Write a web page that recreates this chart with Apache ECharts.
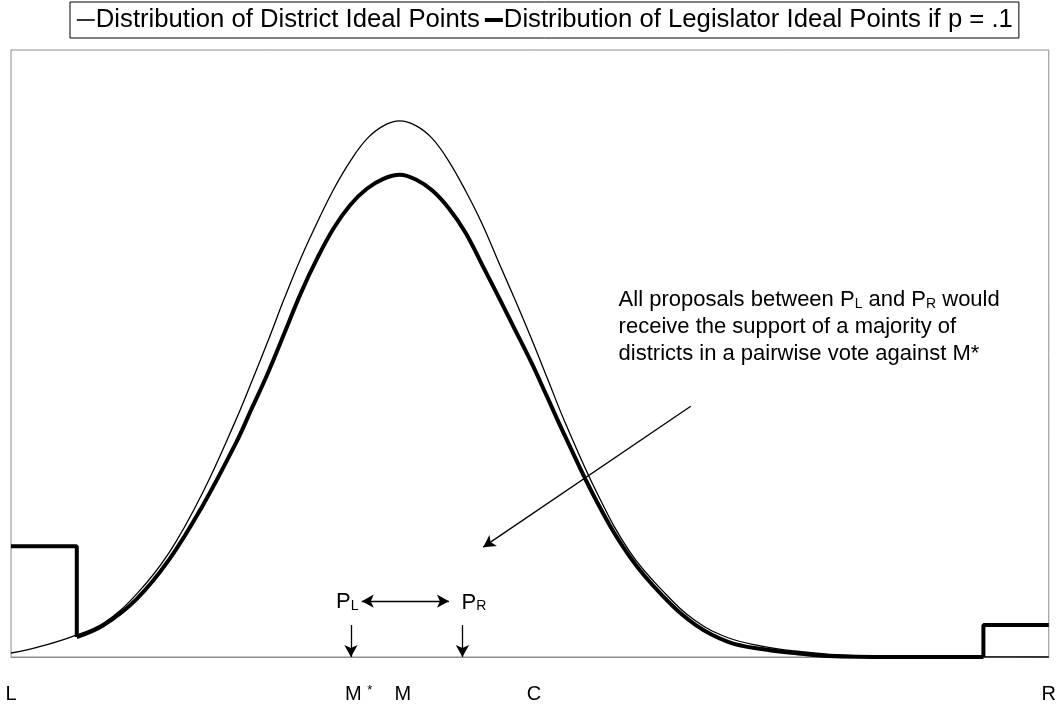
<!DOCTYPE html>
<html>
<head>
<meta charset="utf-8">
<script src="https://cdn.jsdelivr.net/npm/echarts@6/dist/echarts.min.js"></script>
<style>
html,body{margin:0;padding:0;background:#fff;}
#chart{width:1059px;height:706px;}
</style>
</head>
<body>
<div id="chart"></div>
<script>
// ---- data (x: 0 = L, 100 = R; y: relative density) ----
const districtX = [0, 2.59, 5.76, 8.93, 12.10, 15.27, 18.44, 21.61, 23.20, 24.78, 26.37, 27.95, 29.54, 31.12, 32.71, 34.29, 35.88, 37.46, 39.05, 40.63, 42.22, 43.80, 45.39, 46.97, 48.56, 50.14, 51.73, 53.31, 56.48, 59.65, 62.82, 65.99, 69.16, 72.33, 75.50, 78.67, 85.01, 100];
const districtY = [0.66, 1.64, 3.29, 5.59, 10.36, 17.27, 26.97, 38.82, 45.39, 52.14, 59.21, 65.79, 71.71, 77.14, 81.74, 85.36, 87.50, 88.32, 87.50, 85.36, 81.58, 76.81, 71.38, 65.13, 58.88, 52.47, 45.72, 38.98, 26.97, 17.27, 10.86, 5.92, 3.13, 1.81, 0.99, 0.49, 0.03, 0];

const legislatorX = [6.34, 8.93, 12.10, 15.27, 18.44, 21.61, 23.20, 24.78, 26.37, 27.95, 29.54, 31.12, 32.71, 34.29, 35.88, 37.46, 39.05, 40.63, 42.22, 43.80, 45.39, 46.97, 48.56, 50.14, 51.73, 53.31, 56.48, 59.65, 62.82, 65.99, 69.16, 72.33, 75.50, 78.67, 85.01, 93.7];
const legislatorY = [3.29, 5.26, 9.54, 16.12, 24.84, 35.03, 40.95, 46.88, 53.45, 60.03, 65.79, 70.72, 74.51, 77.14, 78.78, 79.44, 78.62, 76.81, 73.85, 69.90, 64.64, 59.38, 53.95, 48.52, 42.60, 36.68, 25.49, 16.45, 10.03, 5.26, 2.47, 1.32, 0.66, 0.16, 0, 0];

const leftStepX = [0, 6.34, 6.34];
const leftStepY = [18.26, 18.26, 3.29];
const rightStepX = [93.7, 93.7, 100];
const rightStepY = [0, 5.26, 5.26];

const tickValues = [0, 33.5, 37.75, 50.4, 100];
const tickLabels = ['L', 'M*', 'M', 'C', 'R'];

const seriesNames = ['Distribution of District Ideal Points', 'Distribution of Legislator Ideal Points if p = .1'];

// annotation anchors (data units)
const mStarX = 32.76, pRX = 43.5;
const arrowTopY = 5.26;
const pairArrowY = 9.2, pairArrowX1 = 33.8, pairArrowX2 = 42.2;
const diagFrom = [65.5, 41.3], diagTo = [45.5, 18.1];
const pLLabel = [32.4, 9.5], pRLabel = [44.6, 9.4];
const noteAnchor = [58.5, 54.8];

function zip(xs, ys) { return xs.map((x, i) => [x, ys[i]]); }

const FONT = 'Liberation Sans, Arial, Helvetica, sans-serif';
const thin = { color: '#000', width: 1.3 };
const thick = { color: '#000', width: 4 };

const chart = echarts.init(document.getElementById('chart'), null, { renderer: 'canvas' });

const note = '{n|All proposals between }{p|P}{s|L}{n| and }{p|P}{s|R}{n| would}\n' +
             '{n|receive the support of a majority of}\n' +
             '{n|districts in a pairwise vote against M*}';

const noteRich = {
  n: { fontSize: 22, lineHeight: 27, fontFamily: FONT, color: '#000', verticalAlign: 'bottom' },
  p: { fontSize: 22, lineHeight: 27, fontFamily: FONT, color: '#000', verticalAlign: 'bottom' },
  s: { fontSize: 14, lineHeight: 10, fontFamily: FONT, color: '#000', verticalAlign: 'bottom' }
};

chart.setOption({
  animation: false,
  backgroundColor: '#fff',
  textStyle: { fontFamily: FONT },
  legend: {
    data: [
      { name: seriesNames[0], lineStyle: { width: 1.6, color: '#000' } },
      { name: seriesNames[1], lineStyle: { width: 4, color: '#000' } }
    ],
    left: 70, top: 2,
    borderColor: '#000', borderWidth: 1,
    padding: [5, 6, 5, 6],
    itemGap: 3,
    itemWidth: 18, itemHeight: 12,
    itemStyle: { opacity: 0 },
    textStyle: { fontSize: 25.7, color: '#000', fontFamily: FONT, padding: [0, 0, 0, -4] },
    selectedMode: false
  },
  grid: {
    left: 11, right: 7, top: 50, bottom: 48,
    show: true, borderColor: '#8c8c8c', borderWidth: 1, backgroundColor: '#fff'
  },
  xAxis: {
    type: 'value', min: 0, max: 100,
    axisLine: { show: true, lineStyle: { color: '#8c8c8c', width: 1 } },
    axisTick: { show: false },
    splitLine: { show: false },
    axisLabel: {
      customValues: tickValues,
      showMinLabel: true, showMaxLabel: true,
      margin: 27,
      color: '#000',
      fontSize: 20, fontFamily: FONT,
      formatter: function (v) {
        let best = 0, bd = 1e9;
        tickValues.forEach((t, i) => { const d = Math.abs(t - v); if (d < bd) { bd = d; best = i; } });
        const lab = tickLabels[best];
        if (lab === 'M*') return '{a|M} {s|*}';
        return '{a|' + lab + '}';
      },
      rich: {
        a: { fontSize: 20, lineHeight: 24, fontFamily: FONT, color: '#000', verticalAlign: 'top' },
        s: { fontSize: 13, lineHeight: 13, fontFamily: FONT, color: '#000', verticalAlign: 'top' }
      }
    }
  },
  yAxis: { type: 'value', min: 0, max: 100, show: false, splitLine: { show: false } },
  series: [
    {
      name: seriesNames[0], type: 'line', data: zip(districtX, districtY),
      showSymbol: false, symbol: 'none', smooth: 0.4, lineStyle: thin, z: 2,
      markLine: {
        silent: true, symbolSize: [10, 12], precision: 4,
        lineStyle: { color: '#000', width: 1.3, type: 'solid' },
        label: { show: false },
        data: [
          [{ coord: [mStarX, arrowTopY], symbol: 'none' }, { coord: [mStarX, 0], symbol: 'arrow' }],
          [{ coord: [pRX, arrowTopY], symbol: 'none' }, { coord: [pRX, 0], symbol: 'arrow' }],
          [{ coord: [pairArrowX1, pairArrowY], symbol: 'arrow' }, { coord: [pairArrowX2, pairArrowY], symbol: 'arrow' }],
          [{ coord: diagFrom, symbol: 'none' }, { coord: diagTo, symbol: 'arrow' }]
        ]
      },
      markPoint: {
        silent: true, symbol: 'rect', symbolSize: 1,
        itemStyle: { color: 'rgba(0,0,0,0)' },
        data: [
          { coord: pLLabel, label: { show: true, position: 'inside', formatter: '{p|P}{s|L}', rich: noteRich } },
          { coord: pRLabel, label: { show: true, position: 'inside', formatter: '{p|P}{s|R}', rich: noteRich } },
          { coord: noteAnchor, label: { show: true, position: 'right', distance: 0, align: 'left', formatter: note, rich: noteRich } }
        ]
      }
    },
    {
      name: seriesNames[1], type: 'line', data: zip(legislatorX, legislatorY),
      showSymbol: false, symbol: 'none', smooth: 0.4, lineStyle: thick, z: 3
    },
    {
      name: seriesNames[1], type: 'line', data: zip(leftStepX, leftStepY),
      showSymbol: false, symbol: 'none', smooth: false, lineStyle: thick, z: 3
    },
    {
      name: seriesNames[1], type: 'line', data: zip(rightStepX, rightStepY),
      showSymbol: false, symbol: 'none', smooth: false, lineStyle: thick, z: 3
    }
  ]
});
</script>
</body>
</html>
